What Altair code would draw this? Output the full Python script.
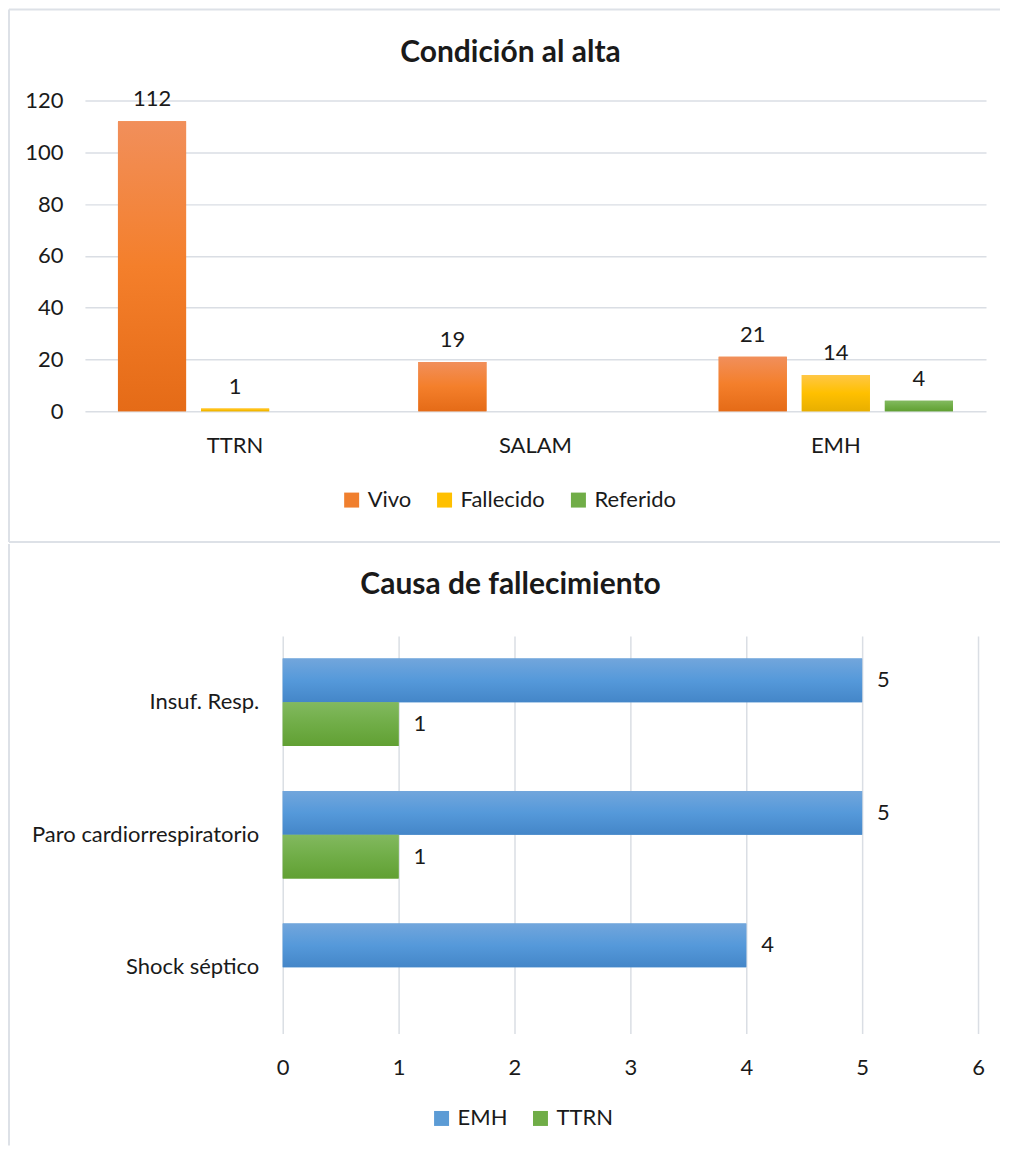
import altair as alt
import pandas as pd

# ---------------- data ----------------
title_top = "Condición al alta"
cats_top = ["TTRN", "SALAM", "EMH"]
series_top = ["Vivo", "Fallecido", "Referido"]
vivo = [112, 19, 21]
fallecido = [1, None, 14]
referido = [None, None, 4]

title_bot = "Causa de fallecimiento"
causas = ["Insuf. Resp.", "Paro cardiorrespiratorio", "Shock séptico"]
series_bot = ["EMH", "TTRN"]
emh = [5, 5, 4]
ttrn = [1, 1, None]

FONT = "Lato"
FS = 22
TXT = "#1a1a1a"
GRID = "#DADEE4"
BORDER = "#DDE1E7"

rows = []
for i, c in enumerate(cats_top):
    for s, vals in zip(series_top, [vivo, fallecido, referido]):
        if vals[i] is not None:
            rows.append({"cat": c, "serie": s, "val": vals[i]})
df_top = pd.DataFrame(rows)

rows = []
for i, c in enumerate(causas):
    for s, vals in zip(series_bot, [emh, ttrn]):
        if vals[i] is not None:
            rows.append({"causa": c, "serie": s, "val": vals[i]})
df_bot = pd.DataFrame(rows)

one = pd.DataFrame({"t": [0]})


def grad(c0, c1, c2):
    return alt.Gradient(
        gradient="linear", x1=0, y1=0, x2=0, y2=1,
        stops=[alt.GradientStop(color=c0, offset=0),
               alt.GradientStop(color=c1, offset=0.5),
               alt.GradientStop(color=c2, offset=1)],
    ).to_dict()


g_orange = grad("#F18F5B", "#F47F2B", "#E56B17")
g_yellow = grad("#FFC746", "#FFC000", "#E8AF00")
g_green = grad("#82B95F", "#70AD47", "#61A033")
g_blue = grad("#72A6DC", "#5599DA", "#4486C8")


def rule(x, y, x2, y2):
    return alt.Chart(one).mark_rule(color=BORDER, strokeWidth=2).encode(
        x=alt.value(x), y=alt.value(y), x2=alt.value(x2), y2=alt.value(y2)
    )


def title_mark(text, x, y):
    return alt.Chart(pd.DataFrame({"t": [text]})).mark_text(
        font=FONT, fontSize=30, fontWeight="bold", color=TXT, align="center", baseline="middle"
    ).encode(text="t:N", x=alt.value(x), y=alt.value(y))


def legend(x, y):
    return alt.Legend(title=None, orient="none", direction="horizontal",
                      legendX=x, legendY=y, symbolType="square",
                      symbolSize=225, symbolStrokeWidth=0, labelFont=FONT,
                      labelFontSize=FS, labelColor=TXT, columnPadding=22,
                      labelOffset=5)


# ---------------- top chart ----------------
W1, H1 = 902, 311
xt = alt.X("cat:N", sort=cats_top, title=None,
           scale=alt.Scale(paddingInner=0.22, paddingOuter=0.11),
           axis=alt.Axis(labelAngle=0, labelFont=FONT, labelFontSize=FS, labelColor=TXT,
                         labelPadding=24, domain=False, ticks=False, grid=False))
xo = alt.XOffset("serie:N", sort=series_top,
                 scale=alt.Scale(domain=series_top, paddingInner=0.18, paddingOuter=0))
yt = alt.Y("val:Q", title=None, scale=alt.Scale(domain=[0, 120], nice=False),
           axis=alt.Axis(values=[0, 20, 40, 60, 80, 100, 120], labelFont=FONT, labelFontSize=FS,
                         labelColor=TXT, labelPadding=22, domain=False, ticks=False,
                         labelFlush=False, gridColor=GRID, gridWidth=1.5))

base_top = alt.Chart(df_top).mark_bar().encode(
    x=xt, xOffset=xo, y=yt,
    color=alt.Color("serie:N", sort=series_top,
                    scale=alt.Scale(domain=series_top, range=["#F07F2E", "#FFC000", "#70AD47"]),
                    legend=legend(256, 389)),
)
grad_top = alt.Chart(df_top).mark_bar().encode(
    x=xt, xOffset=xo, y=yt,
    fill={"condition": [{"test": "datum.serie === 'Vivo'", "value": g_orange},
                        {"test": "datum.serie === 'Fallecido'", "value": g_yellow}],
          "value": g_green},
)
labels_top = alt.Chart(df_top).mark_text(
    font=FONT, fontSize=FS, color=TXT, baseline="alphabetic", dy=-15
).encode(x=xt, xOffset=xo, y=yt, text="val:Q")

top = alt.layer(
    base_top, grad_top, labels_top,
    title_mark(title_top, 426, -48),
    rule(-76, -91, 916, -91),
    rule(-76, -91, -76, 442),
    rule(-76, 442, 916, 442),
).properties(width=W1, height=H1)

# ---------------- bottom chart ----------------
# plot area shares the left origin of the top chart; the value axis occupies [198, 894]
W2, H2 = 894, 398
X0 = 198
xb = alt.X("val:Q", title=None, scale=alt.Scale(domain=[0, 6], nice=False, range=[X0, W2]),
           axis=alt.Axis(values=[0, 1, 2, 3, 4, 5, 6], labelFont=FONT, labelFontSize=FS,
                         labelColor=TXT, labelPadding=24, domain=False, ticks=False,
                         labelFlush=False, gridColor=GRID, gridWidth=1.5))
yb = alt.Y("causa:N", sort=causas, title=None,
           scale=alt.Scale(paddingInner=0.34, paddingOuter=0.17),
           axis=alt.Axis(labelFont=FONT, labelFontSize=FS, labelColor=TXT, labelPadding=24,
                         labelLimit=400, domain=False, ticks=False, grid=False, offset=-X0))
yo = alt.YOffset("serie:N", sort=series_bot,
                 scale=alt.Scale(domain=series_bot, paddingInner=0, paddingOuter=0))

base_bot = alt.Chart(df_bot).mark_bar().encode(
    x=xb, y=yb, yOffset=yo,
    color=alt.Color("serie:N", sort=series_bot,
                    scale=alt.Scale(domain=series_bot, range=["#5B9BD5", "#70AD47"]),
                    legend=legend(346, 472)),
)
grad_bot = alt.Chart(df_bot).mark_bar().encode(
    x=xb, y=yb, yOffset=yo,
    fill={"condition": [{"test": "datum.serie === 'EMH'", "value": g_blue}],
          "value": g_green},
)
labels_bot = alt.Chart(df_bot).mark_text(
    font=FONT, fontSize=FS, color=TXT, align="left", baseline="middle", dx=15
).encode(x=xb, y=yb, yOffset=yo, text="val:Q")

bottom = alt.layer(
    base_bot, grad_bot, labels_bot,
    title_mark(title_bot, 426, -51),
    rule(-76, -92, -76, 510),
).properties(width=W2, height=H2)

chart = alt.vconcat(top, bottom, spacing=0).resolve_scale(
    color="independent"
).resolve_legend(color="independent").properties(
    padding=0, background="white"
).configure_view(stroke=None)

chart.save("out.html", embed_options={"renderer": "svg", "actions": False})
